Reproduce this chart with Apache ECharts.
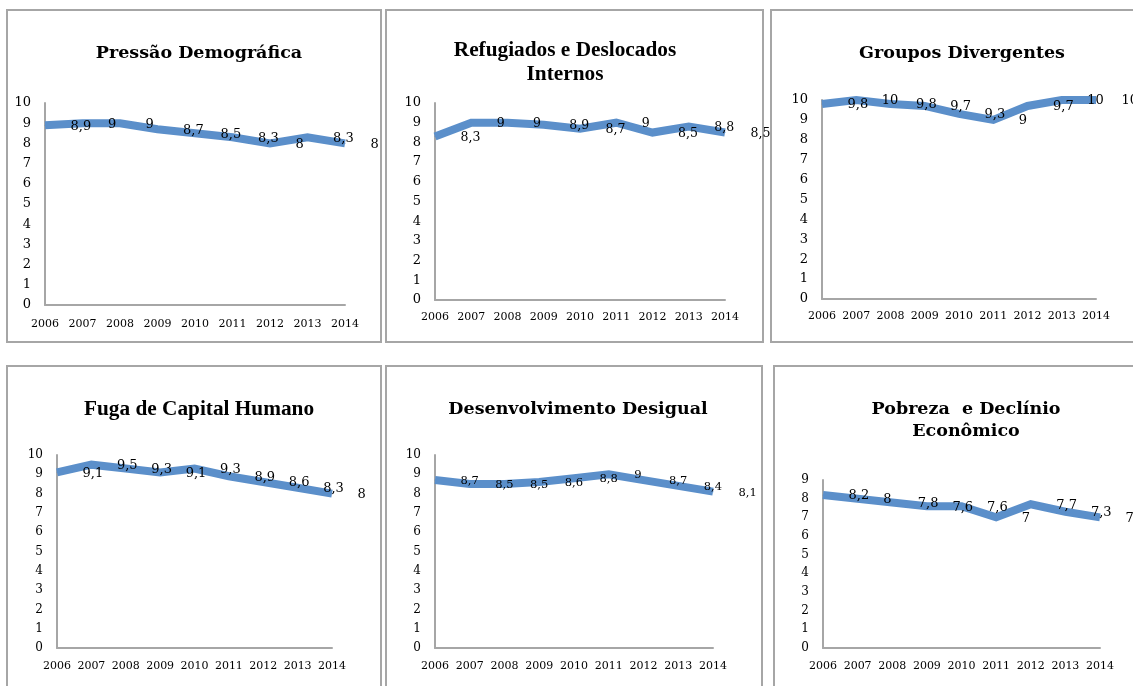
<!DOCTYPE html>
<html><head><meta charset="utf-8">
<script src="https://cdn.jsdelivr.net/npm/echarts@6/dist/echarts.min.js"></script>
<style>html,body{margin:0;padding:0;background:#fff}#c{width:1133px;height:686px}</style>
</head><body><div id="c"></div>
<script>
const years = ['2006','2007','2008','2009','2010','2011','2012','2013','2014'];
const titles = ['Pressão Demográfica','Refugiados e Deslocados\nInternos','Groupos Divergentes','Fuga de Capital Humano','Desenvolvimento Desigual','Pobreza  e Declínio\nEconômico'];
const pressao    = [8.9, 9, 9, 8.7, 8.5, 8.3, 8, 8.3, 8];
const refugiados = [8.3, 9, 9, 8.9, 8.7, 9, 8.5, 8.8, 8.5];
const grupos     = [9.8, 10, 9.8, 9.7, 9.3, 9, 9.7, 10, 10];
const fuga       = [9.1, 9.5, 9.3, 9.1, 9.3, 8.9, 8.6, 8.3, 8];
const desenv     = [8.7, 8.5, 8.5, 8.6, 8.8, 9, 8.7, 8.4, 8.1];
const pobreza    = [8.2, 8, 7.8, 7.6, 7.6, 7, 7.7, 7.3, 7];
const yMax = [10, 10, 10, 10, 10, 9];

const seriesData = [pressao, refugiados, grupos, fuga, desenv, pobreza];

// layout
const grids = [
  {left:45, top:103, width:300, height:202},
  {left:435, top:103, width:290, height:197},
  {left:822, top:100, width:274, height:199},
  {left:57, top:455, width:275, height:193},
  {left:435, top:455, width:278, height:193},
  {left:823, top:480, width:277, height:168}
];
const boxes = [
  [7,10,374,332],[386,10,377,332],[771,10,380,332],
  [7,366,374,340],[386,366,376,340],[774,366,380,340]
];
const titlePos = [
  {x:194, y:36, ff:'DejaVu Serif', fs:17.5, lh:24},
  {x:560, y:33, ff:'Liberation Serif', fs:21.3, lh:24},
  {x:957, y:36, ff:'DejaVu Serif', fs:17.5, lh:24},
  {x:194, y:392, ff:'Liberation Serif', fs:21.3, lh:24},
  {x:573, y:392, ff:'DejaVu Serif', fs:17.5, lh:24},
  {x:961, y:393, ff:'DejaVu Serif', fs:17.5, lh:22}
];
const yFont = [13,13,13,12,12,12];
const lblFont = [13,12.5,13,13,11.5,13];
const xMargin = [14,12,12,13,13,13];

const serif = 'DejaVu Serif';
const option = {
  animation:false,
  backgroundColor:'#fff',
  title: titlePos.map((t,i)=>({
    text: titles[i], left: t.x, top: t.y, textAlign:'center',
    textStyle:{fontFamily:t.ff, fontSize:t.fs, fontWeight:'bold', color:'#000', lineHeight:t.lh}
  })),
  graphic: boxes.map(b=>({type:'rect', silent:true, shape:{x:b[0],y:b[1],width:b[2],height:b[3]},
    style:{fill:'none', stroke:'#a6a6a6', lineWidth:2}, z:-1})),
  grid: grids.map(g=>Object.assign({containLabel:false}, g)),
  xAxis: grids.map((g,i)=>({
    type:'category', gridIndex:i, data:years, boundaryGap:false,
    axisLine:{lineStyle:{color:'#a6a6a6', width:2}},
    axisTick:{show:false},
    axisLabel:{fontFamily:serif, fontSize:11, color:'#000', margin:xMargin[i], interval:0}
  })),
  yAxis: grids.map((g,i)=>({
    type:'value', gridIndex:i, min:0, max:yMax[i], interval:1,
    axisLine:{show:true, lineStyle:{color:'#a6a6a6', width:2}},
    axisTick:{show:false}, splitLine:{show:false},
    axisLabel:{fontFamily:serif, fontSize:yFont[i], color:'#000', margin:14}
  })),
  series: seriesData.map((d,i)=>({
    type:'line', xAxisIndex:i, yAxisIndex:i, data:d,
    symbol:'circle', symbolSize:1, showSymbol:true,
    itemStyle:{color:'#5b8fca'},
    lineStyle:{color:'#5b8fca', width:8, join:'miter', cap:'butt'},
    label:{show:true, position:'right', distance:25, offset:[0,1],
      fontFamily:serif, fontSize:lblFont[i], color:'#000',
      formatter:p=>String(p.value).replace('.',',')},
    clip:false
  }))
};
echarts.init(document.getElementById('c')).setOption(option);
</script></body></html>
